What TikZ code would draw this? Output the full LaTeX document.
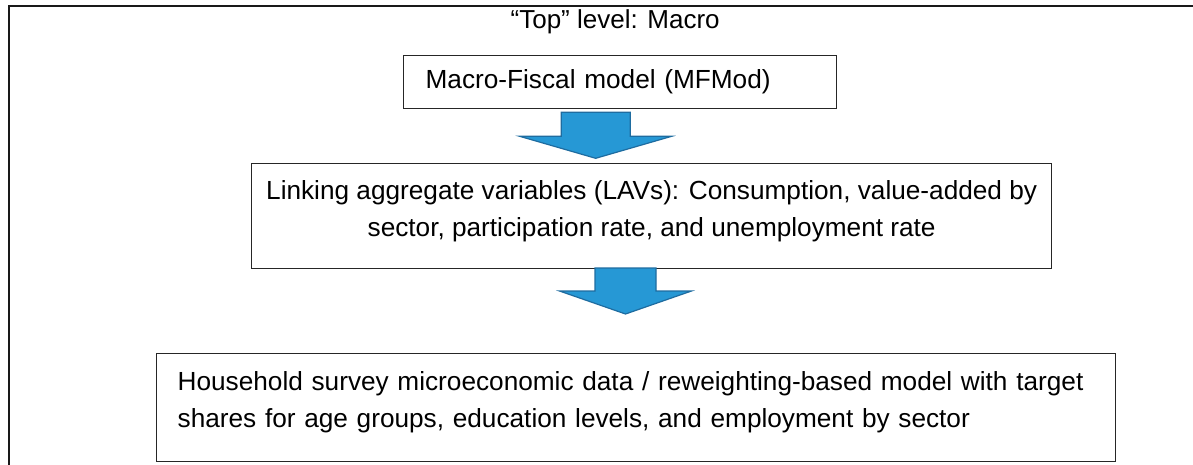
\documentclass[tikz,border=0pt]{standalone}
\usepackage{fontspec}
\setmainfont{Liberation Sans}
\usetikzlibrary{positioning}

\definecolor{arrowfill}{RGB}{38,152,213}
\definecolor{arrowline}{RGB}{30,108,160}

\tikzset{
	box/.style={draw=black!85, line width=1.3pt, rectangle, inner sep=0pt, anchor=north west, font=\fontsize{26.2pt}{37pt}\selectfont},
	lbl/.style={inner sep=0pt, font=\fontsize{26pt}{37pt}\selectfont},
	blockarrow/.style={fill=arrowfill, draw=arrowline, line width=1.2pt, line join=miter},
}

\begin{document}
\begin{tikzpicture}[x=1pt, y=-1pt]
		
		\useasboundingbox (0,0) rectangle (1193,464);
		\clip (0,0) rectangle (1193,464);
		
		% frame around the whole figure
		\draw[line width=2.5pt, black!90] (9,480) -- (9,6) -- (1210,6);
		
		\node[box, minimum width=433, minimum height=53, text width=389, inner xsep=22, align=left] (macro) at (403,55) {Macro-Fiscal model (MFMod)};
		\node[lbl, above=21pt of macro.north, xshift=-5pt] (level) {“Top” level: Macro};
		
		% text sits high in the box, so pad the last line downwards
		\node[box, minimum width=800, minimum height=105, align=center] (lav) at (251,163) {Linking aggregate variables (LAVs): Consumption, value-added by\\ sector, participation rate, and unemployment rate\rule[-15pt]{0pt}{0pt}};
		
		\node[box, minimum width=959, minimum height=108, text width=917, inner xsep=21, align=left] (micro) at (156,353) {Household survey microeconomic data / reweighting-based model with target\\ shares for age groups, education levels, and employment by sector\rule[-17pt]{0pt}{0pt}};
		
		% block arrows between the levels
		\coordinate (down1) at ([xshift=-24.5pt, yshift=-3pt]macro.south);
		\coordinate (down2) at (625.5,268);
		\draw[blockarrow] (down1) ++(-34.5,0) -- ++(69,0) -- ++(0,24) -- ++(41.5,0) -- ++(-76,22) -- ++(-76,-22) -- ++(41.5,0) -- cycle;
		\draw[blockarrow] (down2) ++(-30.5,0) -- ++(61,0) -- ++(0,23) -- ++(35.5,0) -- ++(-66,23) -- ++(-66,-23) -- ++(35.5,0) -- cycle;
		
\end{tikzpicture}
\end{document}
